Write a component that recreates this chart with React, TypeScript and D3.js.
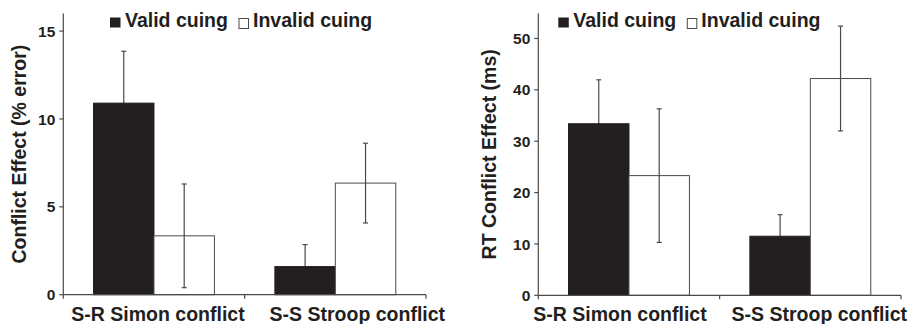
import * as d3 from "d3";

const categories = ["S-R Simon conflict", "S-S Stroop conflict"];
const seriesNames = ["Valid cuing", "Invalid cuing"];

// left panel: error rates
const errorValid = [10.9, 1.6];
const errorInvalid = [3.35, 6.35];
const errorValidSem = [2.95, 1.25];
const errorInvalidSem = [2.95, 2.27];
const errorTicks = [0, 5, 10, 15];

// right panel: reaction times
const rtValid = [33.4, 11.5];
const rtInvalid = [23.3, 42.2];
const rtValidSem = [8.55, 4.2];
const rtInvalidSem = [13.0, 10.2];
const rtTicks = [0, 10, 20, 30, 40, 50];

const FONT = "'Liberation Sans', Arial, Helvetica, sans-serif";
const BAR_FILL = "#231f20";
const LINE = "#4a4a4a";

interface PanelProps {
  x0: number;
  x1: number;
  yTop: number;
  yBottom: number;
  max: number;
  ticks: number[];
  valid: number[];
  invalid: number[];
  validSem: number[];
  invalidSem: number[];
  yLabel: string;
  yLabelX: number;
  legendX: number;
  labelShift: number[];
}

function Panel(p: PanelProps) {
  const x = d3.scaleBand<string>().domain(categories).range([p.x0, p.x1]).paddingInner(0).paddingOuter(0);
  const y = d3.scaleLinear().domain([0, p.max]).range([p.yBottom, p.yTop]);
  const inner = d3
    .scaleBand<string>()
    .domain(seriesNames)
    .range([0, x.bandwidth()])
    .paddingInner(0)
    .paddingOuter(0.5);

  const series = [
    { name: seriesNames[0], vals: p.valid, sem: p.validSem, fill: BAR_FILL },
    { name: seriesNames[1], vals: p.invalid, sem: p.invalidSem, fill: "#ffffff" },
  ];

  const boundaries = [p.x0, ...categories.map((c) => (x(c) ?? 0) + x.bandwidth())];
  const yMid = (p.yTop + p.yBottom) / 2;

  const errorBars = (s: (typeof series)[number]) =>
    categories.map((c, i) => {
      const cx = (x(c) ?? 0) + (inner(s.name) ?? 0) + inner.bandwidth() / 2;
      const hi = y(s.vals[i] + s.sem[i]);
      const lo = y(s.vals[i] - s.sem[i]);
      return (
        <g key={"e" + s.name + c} stroke={LINE} strokeWidth={1.2}>
          <line x1={cx} x2={cx} y1={hi} y2={lo} />
          <line x1={cx - 2.5} x2={cx + 2.5} y1={hi} y2={hi} />
          <line x1={cx - 2.5} x2={cx + 2.5} y1={lo} y2={lo} />
        </g>
      );
    });

  return (
    <g fontFamily={FONT} fontWeight="bold">
      {/* valid error bars go under the dark bars */}
      {errorBars(series[0])}
      {series.map((s) =>
        categories.map((c, i) => {
          const bx = (x(c) ?? 0) + (inner(s.name) ?? 0);
          const by = y(s.vals[i]);
          return (
            <rect
              key={s.name + c}
              x={bx}
              y={by}
              width={inner.bandwidth()}
              height={y(0) - by}
              fill={s.fill}
              stroke={s.fill === BAR_FILL ? BAR_FILL : LINE}
              strokeWidth={1}
            />
          );
        })
      )}
      {errorBars(series[1])}
      {/* y axis */}
      <line x1={p.x0} x2={p.x0} y1={p.yTop} y2={p.yBottom} stroke={LINE} strokeWidth={1.2} />
      {p.ticks.map((t) => (
        <g key={t}>
          <line x1={p.x0 - 4} x2={p.x0} y1={y(t)} y2={y(t)} stroke={LINE} strokeWidth={1.2} />
          <text x={p.x0 - 8} y={y(t)} dy="0.36em" textAnchor="end" fontSize={15.5} fill="#231f20">
            {t}
          </text>
        </g>
      ))}
      {/* x axis */}
      <line x1={p.x0} x2={p.x1} y1={p.yBottom} y2={p.yBottom} stroke={LINE} strokeWidth={1.2} />
      {boundaries.map((bx, i) => (
        <line key={i} x1={bx} x2={bx} y1={p.yBottom} y2={p.yBottom + 4} stroke={LINE} strokeWidth={1.2} />
      ))}
      {categories.map((c, i) => (
        <text
          key={c}
          x={(x(c) ?? 0) + x.bandwidth() / 2 + p.labelShift[i]}
          y={321}
          textAnchor="middle"
          fontSize={19.5}
          fill="#231f20"
        >
          {c}
        </text>
      ))}
      {/* y label */}
      <text
        transform={`translate(${p.yLabelX},${yMid}) rotate(-90)`}
        textAnchor="middle"
        fontSize={19.5}
        fill="#231f20"
      >
        {p.yLabel}
      </text>
      {/* legend */}
      <g transform={`translate(${p.legendX},0)`}>
        <rect x={0} y={17.5} width={10.5} height={10} fill={BAR_FILL} />
        <text x={15} y={27} fontSize={19.5} fill="#231f20">
          {seriesNames[0]}
        </text>
        <rect x={129} y={18.5} width={9.5} height={10} fill="#fff" stroke={LINE} strokeWidth={1} />
        <text x={143} y={27} fontSize={19.5} fill="#231f20">
          {seriesNames[1]}
        </text>
      </g>
    </g>
  );
}

export default function App() {
  return (
    <svg
      width={911}
      height={324}
      style={{ position: "absolute", left: 0, top: 0, background: "#fff" }}
    >
      <Panel
        x0={63.3}
        x1={426}
        yTop={13.5}
        yBottom={294.7}
        max={16}
        ticks={errorTicks}
        valid={errorValid}
        invalid={errorInvalid}
        validSem={errorValidSem}
        invalidSem={errorInvalidSem}
        yLabel="Conflict Effect (% error)"
        yLabelX={26}
        legendX={110}
        labelShift={[4, 22]}
      />
      <Panel
        x0={538.3}
        x1={901}
        yTop={13.3}
        yBottom={295.3}
        max={54.9}
        ticks={rtTicks}
        valid={rtValid}
        invalid={rtInvalid}
        validSem={rtValidSem}
        invalidSem={rtInvalidSem}
        yLabel="RT Conflict Effect (ms)"
        yLabelX={496}
        legendX={558.3}
        labelShift={[-9, 9]}
      />
    </svg>
  );
}
